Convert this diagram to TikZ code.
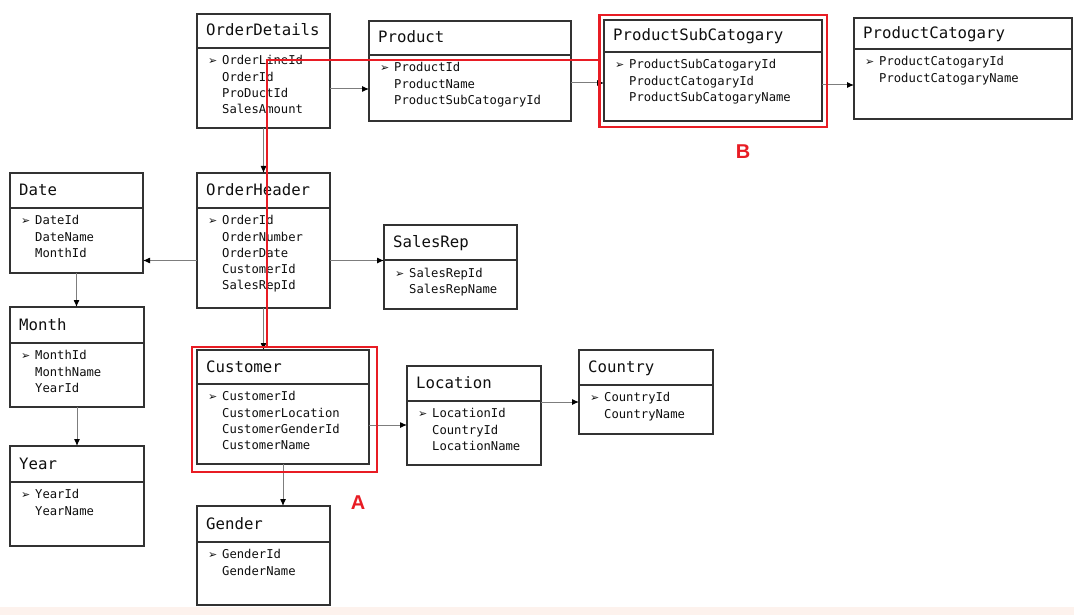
\documentclass[tikz,border=0pt]{standalone}
\usepackage{fontspec}
\setmonofont{DejaVu Sans Mono}
\newfontfamily\symf{DejaVu Sans}
\newfontfamily\lblf{Liberation Sans}
\usetikzlibrary{arrows.meta,calc}
\definecolor{boxc}{RGB}{50,50,50}
\definecolor{txtc}{RGB}{15,15,15}
\definecolor{connc}{RGB}{125,125,125}
\definecolor{redc}{RGB}{232,28,36}
\definecolor{pinkc}{RGB}{253,242,237}
\newcommand\arr{{\symf\fontsize{11}{9}\selectfont ➢}}
\newcommand\keyf[1]{\makebox[14pt][l]{\arr}#1}
\newcommand\fld[1]{\hspace*{14pt}#1}
\newcommand\mkentity[8]{%
  \node[entbox, minimum width=#4pt, minimum height=#5pt, anchor=north west] (#1) at (#2,#3) {};
  \draw[entline] ($(#1.north west)+(0.65,#6)$) -- ($(#1.north east)+(-0.65,#6)$);
  \node[enttitle, anchor=base west] (#1-title) at ($(#1.north west)+(9,#6/2+5)$) {#7};
  \node[entfields, anchor=north west] (#1-fields) at ($(#1.north west)+(11,#6+7.5)$) {#8};
}
\tikzset{
  entbox/.style={draw=boxc, line width=1.3pt, fill=white, inner sep=0pt, outer sep=0pt},
  entline/.style={draw=boxc, line width=1.3pt},
  enttitle/.style={font=\ttfamily\fontsize{15.7}{18}\selectfont, text=txtc, inner sep=0pt},
  entfields/.style={font=\ttfamily\fontsize{12.2}{16.2}\selectfont, text=txtc, align=left, inner sep=0pt},
  conn/.style={draw=connc, line width=1pt, -{Latex[length=7pt,width=6pt,color=black]}},
  redbox/.style={draw=redc, line width=2.6pt, inner sep=0pt, outer sep=0pt},
  redline/.style={draw=redc, line width=2.6pt, line join=miter},
  lbl/.style={font=\lblf\bfseries\fontsize{20}{20}\selectfont, text=redc, inner sep=0pt}
}
\begin{document}
\begin{tikzpicture}[x=1pt,y=-1pt]
\useasboundingbox (0,0) rectangle (1074,615);
\fill[white] (0,0) rectangle (1074,615);
\fill[pinkc] (0,607) rectangle (1074,615);

\mkentity{od}{197}{14}{133}{114}{34}{OrderDetails}{\keyf{OrderLineId}\\\fld{OrderId}\\\fld{ProDuctId}\\\fld{SalesAmount}}
\mkentity{prod}{369}{21}{202}{100}{34}{Product}{\keyf{ProductId}\\\fld{ProductName}\\\fld{ProductSubCatogaryId}}
\mkentity{psc}{604}{20}{218}{101}{32}{ProductSubCatogary}{\keyf{ProductSubCatogaryId}\\\fld{ProductCatogaryId}\\\fld{ProductSubCatogaryName}}
\mkentity{pc}{854}{18}{218}{101}{31}{ProductCatogary}{\keyf{ProductCatogaryId}\\\fld{ProductCatogaryName}}
\mkentity{date}{10}{173}{133}{100}{35}{Date}{\keyf{DateId}\\\fld{DateName}\\\fld{MonthId}}
\mkentity{oh}{197}{173}{133}{135}{35}{OrderHeader}{\keyf{OrderId}\\\fld{OrderNumber}\\\fld{OrderDate}\\\fld{CustomerId}\\\fld{SalesRepId}}
\mkentity{sr}{384}{225}{133}{84}{35}{SalesRep}{\keyf{SalesRepId}\\\fld{SalesRepName}}
\mkentity{month}{10}{307}{134}{100}{36}{Month}{\keyf{MonthId}\\\fld{MonthName}\\\fld{YearId}}
\mkentity{year}{10}{446}{134}{100}{36}{Year}{\keyf{YearId}\\\fld{YearName}}
\mkentity{cust}{197}{350}{172}{114}{34}{Customer}{\keyf{CustomerId}\\\fld{CustomerLocation}\\\fld{CustomerGenderId}\\\fld{CustomerName}}
\mkentity{loc}{407}{366}{134}{99}{35}{Location}{\keyf{LocationId}\\\fld{CountryId}\\\fld{LocationName}}
\mkentity{country}{579}{350}{134}{84}{35}{Country}{\keyf{CountryId}\\\fld{CountryName}}
\mkentity{gender}{197}{506}{133}{99}{36}{Gender}{\keyf{GenderId}\\\fld{GenderName}}

% connectors
\coordinate (c1) at ([yshift=-18pt]od.east);
\draw[conn] (c1) -- (c1 -| prod.west);
\coordinate (c2) at ([yshift=-12pt]prod.east);
\draw[conn] (c2) -- (c2 -| psc.west);
\coordinate (c3) at ([yshift=-14.5pt]psc.east);
\draw[conn] (c3) -- (c3 -| pc.west);
\draw[conn] (od.south) -- (od.south |- oh.north);
\coordinate (c5) at ([yshift=-20pt]oh.west);
\draw[conn] (c5) -- (c5 -| date.east);
\coordinate (c6) at ([yshift=-20pt]oh.east);
\draw[conn] (c6) -- (c6 -| sr.west);
\draw[conn] (date.south) -- (date.south |- month.north);
\draw[conn] (month.south) -- (month.south |- year.north);
\draw[conn] (oh.south) -- (oh.south |- cust.north);
\coordinate (c10) at ([yshift=-18pt]cust.east);
\draw[conn] (c10) -- (c10 -| loc.west);
\coordinate (c11) at ([yshift=13.5pt]loc.east);
\draw[conn] (c11) -- (c11 -| country.west);
\draw[conn] (cust.south) -- (cust.south |- gender.north);

% red highlights
\node[redbox, minimum width=185pt, minimum height=125pt, anchor=north west] (redA) at (192,347) {};
\node[redbox, minimum width=227.5pt, minimum height=112pt, anchor=north west] (redB) at (599.5,15) {};
\draw[redline] ($(redA.north west)+(75,0)$) |- ($(redB.north west)+(0,45)$);
\node[lbl] (labA) at (358,503) {A};
\node[lbl] (labB) at (743,152) {B};
\end{tikzpicture}
\end{document}
